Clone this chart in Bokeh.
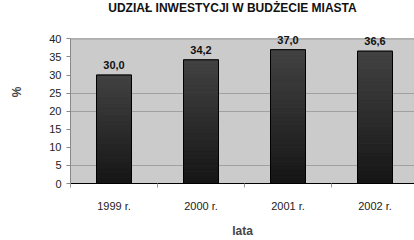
from bokeh.plotting import figure
from bokeh.models import Range1d, FixedTicker, ColumnDataSource
from bokeh.core.properties import value
from bokeh.embed import file_html
from bokeh.resources import INLINE

years = ["1999 r.", "2000 r.", "2001 r.", "2002 r."]
shares = [30.0, 34.2, 37.0, 36.6]
share_labels = ["30,0", "34,2", "37,0", "36,6"]
y_ticks = [0, 5, 10, 15, 20, 25, 30, 35, 40]
grid_ticks = [5, 20, 25]
title_text = "UDZIAŁ INWESTYCJI W BUDŻECIE MIASTA"

n = len(years)
centers = [i + 0.5 for i in range(n)]
y_max = y_ticks[-1]

W, H = 414, 240
BL, BB = 70, 54
AREA_TOP = 39          # pixel row of the top of the plotting area
FH = H - BB
CAT = 87.0
px_per_unit = (FH - AREA_TOP) / y_max
y_end = FH / px_per_unit

p = figure(width=W, height=H, output_backend="svg", toolbar_location=None, title=None,
           x_range=Range1d(0, (W - BL) / CAT), y_range=Range1d(0, y_end),
           min_border_left=BL, min_border_right=0, min_border_top=0, min_border_bottom=BB)

p.border_fill_color = "white"
p.background_fill_color = "white"
p.outline_line_color = None

# plotting area (grey panel) from 0 to the top tick
area = p.quad(left=[0], right=[n], bottom=[0], top=[y_max], fill_color="#cbcbcb",
              line_color="#8a8a8a", line_width=1)
area.level = "image"

# title above the plotting area
p.text(x=[(232 - BL) / CAT], y=[y_max + (AREA_TOP - 1) / px_per_unit], text=[title_text],
       text_align="center", text_baseline="top", text_font=value("Liberation Sans"),
       text_font_size="12px", text_font_style="bold", text_color="#111111")

# gradient bars built from slices
steps = 30
xs, bots, tops, cols = [], [], [], []
for c, v in zip(centers, shares):
    for i in range(steps):
        xs.append(c)
        bots.append(v * i / steps)
        tops.append(v * (i + 1) / steps)
        t = (i + 0.5) / steps
        g = int(20 + (66 - 20) * t ** 0.9)
        cols.append("#%02x%02x%02x" % (g, g, g))
bar_w = 35 / CAT
p.vbar(x=xs, bottom=bots, top=tops, width=bar_w, fill_color=cols, line_color=cols,
       line_width=1)
p.vbar(x=centers, bottom=0, top=shares, width=bar_w, fill_color=None,
       line_color="#000000", line_width=1)

src = ColumnDataSource(dict(x=centers, y=shares, t=share_labels))
p.text(x="x", y="y", text="t", source=src, text_align="center", text_baseline="bottom",
       y_offset=-6, text_font=value("Liberation Sans"), text_font_size="11px",
       text_font_style="bold", text_color="#111111")

# axes
p.xaxis.ticker = FixedTicker(ticks=centers, minor_ticks=list(range(n + 1)))
p.xaxis.major_label_overrides = {c: y for c, y in zip(centers, years)}
p.xaxis.major_tick_out = 0
p.xaxis.major_tick_in = 0
p.xaxis.minor_tick_out = 4
p.xaxis.minor_tick_in = 0
p.xaxis.minor_tick_line_color = "#999999"
p.xaxis.axis_line_color = "#000000"
p.xaxis.major_label_standoff = 12
p.xaxis.major_label_text_font = "Liberation Sans"
p.xaxis.major_label_text_font_size = "11px"
p.xaxis.major_label_text_color = "#222222"
p.xaxis.axis_label = "lata"
p.xaxis.axis_label_text_font = "Liberation Sans"
p.xaxis.axis_label_text_font_size = "12px"
p.xaxis.axis_label_text_font_style = "bold"
p.xaxis.axis_label_standoff = 9

p.yaxis.ticker = FixedTicker(ticks=y_ticks)
p.yaxis.bounds = (0, y_max)
p.yaxis.major_tick_out = 4
p.yaxis.major_tick_in = 0
p.yaxis.minor_tick_line_color = None
p.yaxis.major_tick_line_color = "#888888"
p.yaxis.axis_line_color = "#888888"
p.yaxis.major_label_standoff = 5
p.yaxis.major_label_text_font = "Liberation Sans"
p.yaxis.major_label_text_font_size = "11px"
p.yaxis.major_label_text_color = "#222222"
p.yaxis.axis_label = "%"
p.yaxis.axis_label_text_font = "Liberation Sans"
p.yaxis.axis_label_text_font_size = "12px"
p.yaxis.axis_label_text_font_style = "bold"
p.yaxis.axis_label_standoff = 22

p.xgrid.grid_line_color = None
p.ygrid.ticker = FixedTicker(ticks=grid_ticks)
p.ygrid.grid_line_color = "#a0a0a0"
p.ygrid.grid_line_width = 1

open("out.html", "w").write(file_html(p, INLINE))
